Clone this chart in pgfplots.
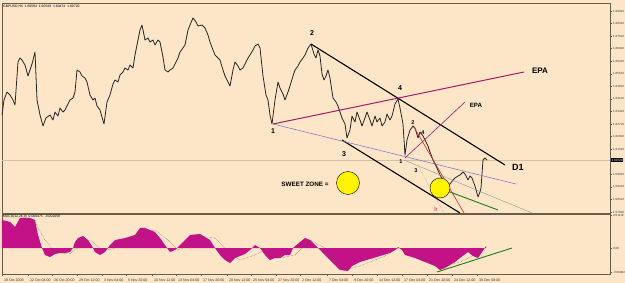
\documentclass[border=0pt]{standalone}
\usepackage{pgfplots}
\pgfplotsset{compat=1.18}
\usepackage{fontspec}
\setmainfont{Liberation Sans}
\definecolor{bg}{RGB}{253,230,200}
\definecolor{frm}{RGB}{105,92,75}
\definecolor{epa}{RGB}{165,25,105}
\definecolor{macd}{RGB}{195,18,135}
\definecolor{cur}{RGB}{215,190,160}
\definecolor{blu}{RGB}{115,110,205}
\definecolor{redl}{RGB}{195,40,40}
\definecolor{gryl}{RGB}{140,150,140}
\definecolor{grn}{RGB}{30,125,20}
\definecolor{yel}{RGB}{255,245,0}
\newcommand{\tinyf}{\fontsize{3.6}{4}\selectfont}
\newcommand{\ytf}{\fontsize{3.0}{3.4}\selectfont}
\begin{document}
\begin{tikzpicture}[x=1pt,y=1pt]
\fill[bg] (0,0) rectangle (625,-283);
\useasboundingbox (0,0) rectangle (625,-283);
% ---------------- price panel ----------------
\begin{axis}[at={(2pt,-3pt)}, anchor=north west, scale only axis,
  width=608pt, height=210pt, xmin=2, xmax=610, ymin=3, ymax=213, y dir=reverse,
  clip=false, axis line style={frm, line width=0.6pt},
  xtick=\empty, ytick pos=right, tick align=outside, major tick length=2pt,
  tick style={frm, line width=0.4pt},
  ytick={11,23.56,36.13,48.69,61.25,73.81,86.38,98.94,111.5,124.06,136.63,149.19,174.31,186.88,199.44,212},
  yticklabels={1.69010,1.68310,1.67610,1.66910,1.66210,1.65510,1.64810,1.64110,1.63410,1.62710,1.62010,1.61310,1.59910,1.59210,1.58510,1.57810},
  yticklabel style={font=\ytf, anchor=west, inner sep=0pt, xshift=1pt, text=black!80}]
\addplot[cur, line width=0.5pt] coordinates {(2,160)(610,160)};
% sweet zone circles
\addplot[only marks, mark=*, mark size=11.5pt, mark options={fill=yel, draw=none}] coordinates {(348,183)};
\addplot[only marks, mark=*, mark size=10pt, mark options={fill=yel, draw=none}] coordinates {(440,188)};
% price
\addplot[black!85, line width=0.8pt, line join=round] coordinates {
(2,115)(4,100)(7,92)(10,95)(13,100)(15,105)(18,62)(20,58)(22,60)(25,65)(28,76)(30,70)(32,64)(35,52)(37,100)(40,115)(43,126)(46,118)(50,115)(53,120)(55,112)(58,116)(60,108)(63,112)(65,110)(68,104)(70,100)(73,98)(75,92)(77,70)(80,72)(82,76)(85,78)(87,82)(90,95)(93,100)(95,98)(97,106)(100,110)(104,124)(107,102)(110,95)(113,84)(115,80)(118,82)(120,75)(123,72)(125,68)(128,70)(130,65)(133,68)(135,55)(137,45)(140,30)(142,25)(145,40)(148,38)(150,42)(153,40)(155,45)(158,40)(160,42)(163,57)(165,70)(168,72)(170,70)(173,68)(175,64)(178,58)(180,52)(183,48)(185,45)(188,30)(190,25)(193,18)(196,22)(198,26)(202,25)(205,28)(208,35)(210,42)(213,50)(215,55)(218,58)(220,60)(223,70)(225,76)(228,82)(230,86)(233,70)(235,62)(238,66)(240,70)(243,68)(245,64)(248,58)(250,55)(253,50)(255,46)(258,44)(260,48)(263,76)(266,95)(268,100)(270,115)(272,124)(275,100)(278,82)(280,88)(283,94)(285,100)(288,92)(290,86)(293,76)(295,70)(298,66)(300,62)(303,58)(305,55)(308,48)(311,44)(314,54)(316,58)(318,50)(320,56)(322,74)(324,80)(326,76)(328,70)(330,78)(333,98)(336,102)(338,106)(340,112)(342,118)(345,124)(347,138)(350,130)(352,116)(355,122)(357,112)(360,120)(362,126)(365,118)(367,112)(370,120)(372,126)(375,116)(377,122)(380,118)(382,126)(385,122)(387,114)(390,120)(392,116)(395,104)(398,99)(400,108)(403,124)(405,155)(407,140)(410,130)(413,126)(415,128)(418,138)(420,132)(423,136)(425,140)(428,146)(430,152)(433,160)(435,164)(437,168)(440,175)(443,180)(445,183)(448,186)(450,184)(453,180)(455,178)(458,176)(460,175)(463,172)(465,174)(468,180)(470,176)(472,178)(475,186)(478,197)(480,192)(481,188)(483,160)(485,158)(487,160)};
% annotation lines
\addplot[black, line width=1.1pt] coordinates {(311,44)(505,165)};
\addplot[black, line width=1.1pt] coordinates {(342,140)(460,213)};
\addplot[epa, line width=1pt] coordinates {(273,124)(524,72)};
\addplot[blu, line width=0.5pt] coordinates {(273,124)(516,184)};
\addplot[epa, line width=0.6pt] coordinates {(405,158)(465,102)};
\addplot[redl, line width=0.6pt] coordinates {(414,127)(464,213)};
\addplot[gryl, line width=0.4pt] coordinates {(404,160)(532,213)};
\addplot[epa!60, line width=0.4pt, densely dotted] coordinates {(418,166)(444,213)};
\addplot[grn, line width=0.9pt] coordinates {(434,186)(498,210)};
% labels
\node[font=\bfseries\fontsize{7}{8}\selectfont] at (axis cs:273,131) {1};
\node[font=\bfseries\fontsize{7}{8}\selectfont] at (axis cs:312,33) {2};
\node[font=\bfseries\fontsize{7}{8}\selectfont] at (axis cs:344,154) {3};
\node[font=\bfseries\fontsize{7}{8}\selectfont] at (axis cs:400,88) {4};
\node[font=\bfseries\fontsize{5.5}{6}\selectfont] at (axis cs:401,162) {1};
\node[font=\bfseries\fontsize{5.5}{6}\selectfont] at (axis cs:413,123) {2};
\node[font=\bfseries\fontsize{5.5}{6}\selectfont] at (axis cs:416,171) {3};
\node[font=\bfseries\fontsize{5.5}{6}\selectfont] at (axis cs:423,133) {4};
\node[font=\bfseries\fontsize{8}{9}\selectfont] at (axis cs:540,71) {EPA};
\node[font=\bfseries\fontsize{6.2}{7}\selectfont] at (axis cs:476,105) {EPA};
\node[font=\bfseries\fontsize{9}{10}\selectfont] at (axis cs:518,167) {D1};
\node[font=\bfseries\fontsize{6.3}{7}\selectfont] at (axis cs:305,184) {SWEET ZONE =};
\node[font=\fontsize{6}{7}\selectfont, text=redl] at (axis cs:436,209) {lr};
\node[anchor=north west, inner sep=0pt, font=\fontsize{3.4}{4}\selectfont] at (axis cs:3,4.5) {GBPUSD,H4 \ 1.60594 \ 1.60549 \ 1.60474 \ 1.60720};
\node[anchor=west, fill=black, text=white, inner sep=0.5pt, font=\ytf] at (axis cs:611,160) {1.60720};
\end{axis}
% ---------------- MACD panel ----------------
\begin{axis}[at={(2pt,-214pt)}, anchor=north west, scale only axis,
  width=608pt, height=60pt, xmin=2, xmax=610, ymin=-26, ymax=34,
  clip=false, axis line style={frm, line width=0.6pt},
  ytick pos=right, xtick pos=bottom, tick align=outside, major tick length=2pt,
  tick style={frm, line width=0.4pt},
  ytick={32.5,0,-24}, yticklabels={0.01119,0.00,-0.00962},
  yticklabel style={font=\ytf, anchor=west, inner sep=0pt, xshift=1pt, text=black!80},
  xtick={2,28,52,77,102,126,152,176,201,227,251,276,300,327,352,377,402,427,452,477},
  xticklabels={19 Oct 2009,22 Oct 04:00,26 Oct 20:00,29 Oct 12:00,3 Nov 04:00,5 Nov 20:00,10 Nov 12:00,13 Nov 04:00,17 Nov 20:00,20 Nov 12:00,25 Nov 04:00,27 Nov 20:00,2 Dec 12:00,7 Dec 04:00,9 Dec 20:00,14 Dec 12:00,17 Dec 04:00,21 Dec 20:00,24 Dec 12:00,30 Dec 08:00},
  xticklabel style={font=\tinyf, anchor=north west, xshift=-1.5pt, yshift=1pt, text=black!80}]
\addplot[fill=macd, draw=none] coordinates {
(2,28)(10,26)(15,21)(20,30)(25,30)(30,30)(35,28)(38,13)(42,0)(45,-7)(50,-9)(55,-6)(60,-5)(65,-5)(70,-4)(73,0)(75,6)(78,10)(83,12)(88,8)(92,2)(95,-4)(100,-7)(105,-4)(110,3)(115,8)(125,10)(135,13)(140,20)(145,20)(150,18)(155,16)(160,10)(165,3)(170,-4)(175,-2)(180,3)(185,8)(190,13)(200,14)(210,8)(215,0)(220,-7)(225,-12)(230,-15)(235,-10)(240,-8)(245,-6)(250,-2)(255,3)(260,0)(265,-7)(270,-12)(275,-10)(280,-10)(285,-7)(290,-7)(293,0)(300,6)(305,10)(310,8)(315,3)(320,-2)(325,-7)(330,-12)(335,-17)(340,-22)(348,-23)(352,-18)(360,-14)(370,-11)(380,-8)(390,-5)(395,-2)(398,1)(402,-2)(405,-7)(415,-10)(425,-14)(435,-18)(440,-22)(445,-20)(455,-14)(460,-10)(468,-4)(473,-8)(478,-10)(482,-4)(486,2)} \closedcycle;
\addplot[black!70, densely dotted, line width=0.4pt] coordinates {
(2,30)(20,30)(35,26)(45,8)(55,-4)(70,-6)(80,2)(90,8)(100,0)(110,-2)(125,5)(140,14)(155,18)(168,8)(178,-2)(190,3)(200,12)(215,10)(228,-4)(240,-12)(255,-7)(265,-2)(280,-10)(295,-7)(310,8)(325,0)(345,-22)(360,-18)(385,-8)(398,0)(410,-2)(440,-20)(460,-14)(485,-2)};
\addplot[grn, line width=0.9pt] coordinates {(437,-24)(512,0)};
\node[anchor=north west, inner sep=0pt, font=\fontsize{3.4}{4}\selectfont] at (axis cs:3,33) {MACD(12,26,9) \ 0.000475 \ -0.002058};
\end{axis}
\end{tikzpicture}
\end{document}
